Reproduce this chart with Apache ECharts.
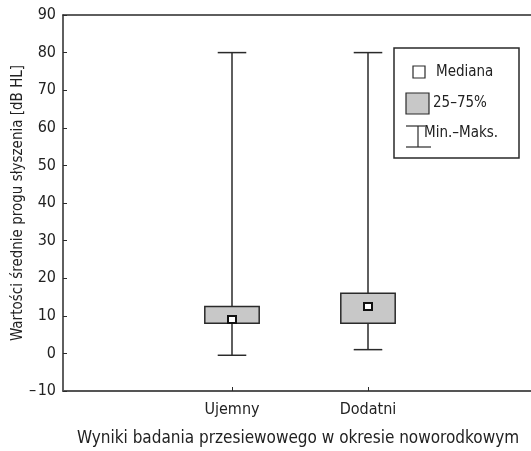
<!DOCTYPE html>
<html>
<head>
<meta charset="utf-8">
<script src="https://cdn.jsdelivr.net/npm/echarts@6/dist/echarts.min.js"></script>
<style>
  html, body { margin: 0; padding: 0; background: #fff; }
  #main { width: 531px; height: 451px; }
</style>
</head>
<body>
<div id="main"></div>
<script>
// dane
var categories = ['Ujemny', 'Dodatni'];
var minValues = [-0.5, 1];
var q1Values = [8, 8];
var medianValues = [9, 12.5];
var q3Values = [12.5, 16];
var maxValues = [80, 80];

var yMin = -10, yMax = 90, yStep = 10;

var FONT = '"Liberation Sans Narrow", "DejaVu Sans Condensed", sans-serif';
var INK = '#2a2a2a';

var chart = echarts.init(document.getElementById('main'), null, { renderer: 'canvas' });

var boxData = categories.map(function (c, i) {
  return [i, minValues[i], q1Values[i], medianValues[i], q3Values[i], maxValues[i]];
});

function renderBox(params, api) {
  var i = api.value(0);
  var pMin = api.coord([i, api.value(1)]);
  var pQ1 = api.coord([i, api.value(2)]);
  var pMed = api.coord([i, api.value(3)]);
  var pQ3 = api.coord([i, api.value(4)]);
  var pMax = api.coord([i, api.value(5)]);
  var band = api.size([1, 0])[0];
  var cx = pMin[0];
  var boxW = band * 0.4;
  var capW = band * 0.21;
  var lineStyle = { stroke: INK, lineWidth: 1.5 };
  return {
    type: 'group',
    children: [
      { type: 'line', shape: { x1: cx, y1: pMax[1], x2: cx, y2: pMin[1] }, style: lineStyle },
      { type: 'line', shape: { x1: cx - capW / 2, y1: pMax[1], x2: cx + capW / 2, y2: pMax[1] }, style: lineStyle },
      { type: 'line', shape: { x1: cx - capW / 2, y1: pMin[1], x2: cx + capW / 2, y2: pMin[1] }, style: lineStyle },
      {
        type: 'rect',
        shape: { x: cx - boxW / 2, y: pQ3[1], width: boxW, height: pQ1[1] - pQ3[1] },
        style: { fill: '#c8c8c8', stroke: INK, lineWidth: 1.5 }
      },
      {
        type: 'rect',
        shape: { x: cx - 4, y: pMed[1] - 3.5, width: 8, height: 7 },
        style: { fill: '#fff', stroke: '#111', lineWidth: 2 }
      }
    ]
  };
}

var legendLine = { stroke: INK, lineWidth: 1.2 };

var option = {
  animation: false,
  grid: [
    { left: 63, right: -2, top: 15, bottom: 60, outerBoundsMode: 'none', containLabel: false },
    { left: 164, right: 95, top: 15, bottom: 60, outerBoundsMode: 'none', containLabel: false }
  ],
  xAxis: [
    {
      // rama: dolna oś na całą szerokość
      type: 'value', gridIndex: 0, min: 0, max: 1,
      axisLine: { show: true, onZero: false, lineStyle: { color: '#555', width: 2 } },
      axisTick: { show: false }, axisLabel: { show: false }, splitLine: { show: false },
      name: 'Wyniki badania przesiewowego w okresie noworodkowym',
      nameLocation: 'middle', nameGap: 39, nameMoveOverlap: false,
      nameTextStyle: { fontFamily: FONT, fontSize: 17, color: '#222' }
    },
    {
      // górna krawędź
      type: 'value', gridIndex: 0, position: 'top', min: 0, max: 1,
      axisLine: { show: true, onZero: false, lineStyle: { color: INK, width: 1.5 } },
      axisTick: { show: false }, axisLabel: { show: false }, splitLine: { show: false }
    },
    {
      type: 'category', gridIndex: 1, data: categories,
      axisLine: { show: false, onZero: false },
      axisTick: { show: true, inside: true, alignWithLabel: true, length: 4, lineStyle: { color: INK, width: 1 } },
      axisLabel: { fontFamily: FONT, fontSize: 16, color: '#222', margin: 11 },
      splitLine: { show: false }
    }
  ],
  yAxis: [
    {
      type: 'value', gridIndex: 0, min: yMin, max: yMax, interval: yStep,
      axisLine: { show: true, onZero: false, lineStyle: { color: INK, width: 1.5 } },
      axisTick: { show: true, inside: true, length: 4, lineStyle: { color: INK, width: 1 } },
      axisLabel: {
        fontFamily: FONT, fontSize: 16, color: '#222', margin: 7,
        formatter: function (v) { return v < 0 ? '\u2013\u200a' + Math.abs(v) : String(v); }
      },
      splitLine: { show: false },
      name: 'Wartości średnie progu słyszenia [dB HL]',
      nameLocation: 'middle', nameGap: 37, nameMoveOverlap: false,
      nameTextStyle: { fontFamily: FONT, fontSize: 15, color: '#222' }
    },
    {
      type: 'value', gridIndex: 1, min: yMin, max: yMax, interval: yStep, show: false
    }
  ],
  series: [{
    type: 'custom',
    xAxisIndex: 2,
    yAxisIndex: 1,
    renderItem: renderBox,
    data: boxData,
    z: 5
  }],
  graphic: [
    {
      type: 'rect', z: 10,
      shape: { x: 394, y: 48, width: 125, height: 110 },
      style: { fill: '#fff', stroke: INK, lineWidth: 1.5 }
    },
    {
      type: 'rect', z: 11,
      shape: { x: 413, y: 66, width: 12, height: 12 },
      style: { fill: '#fff', stroke: INK, lineWidth: 1.2 }
    },
    {
      type: 'text', x: 436, y: 72, z: 11,
      style: { text: 'Mediana', font: '15px ' + FONT, fill: '#222', verticalAlign: 'middle' }
    },
    {
      type: 'rect', z: 11,
      shape: { x: 406, y: 93, width: 23, height: 21 },
      style: { fill: '#c8c8c8', stroke: INK, lineWidth: 1.2 }
    },
    {
      type: 'text', x: 433, y: 103, z: 11,
      style: { text: '25\u201375%', font: '15px ' + FONT, fill: '#222', verticalAlign: 'middle' }
    },
    { type: 'line', z: 11, shape: { x1: 406, y1: 126, x2: 425, y2: 126 }, style: legendLine },
    { type: 'line', z: 11, shape: { x1: 418, y1: 126, x2: 418, y2: 147 }, style: legendLine },
    { type: 'line', z: 11, shape: { x1: 406, y1: 147, x2: 431, y2: 147 }, style: legendLine },
    {
      type: 'text', x: 424, y: 133, z: 11,
      style: { text: 'Min.\u2013Maks.', font: '15px ' + FONT, fill: '#222', verticalAlign: 'middle' }
    }
  ]
};

chart.setOption(option);
</script>
</body>
</html>
